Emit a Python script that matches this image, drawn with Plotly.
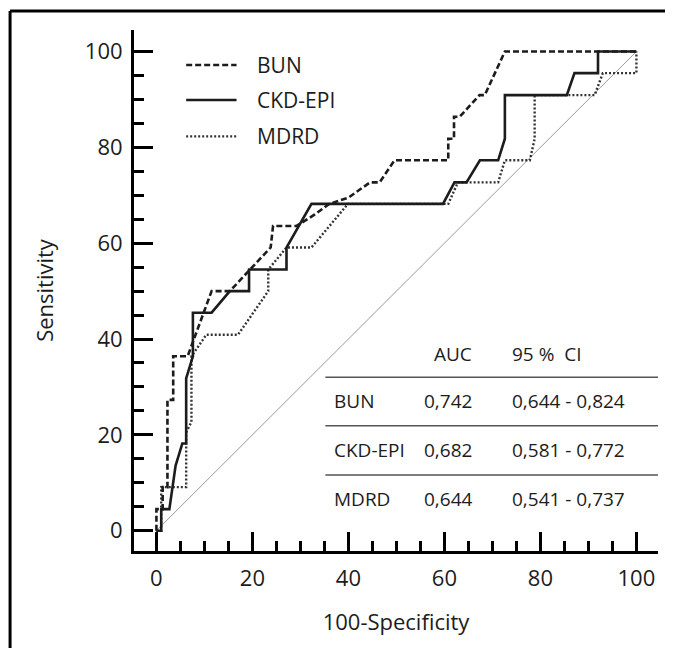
import plotly.graph_objects as go

# ROC curves (x = 100-Specificity, y = Sensitivity)
bun_x = [0, 0, 1.3, 1.3, 2.3, 2.3, 3.5, 3.5, 6.5, 11.5, 15.3, 23.8, 24.3, 29.2, 33, 36, 40, 44.5, 46.5,
         49.6, 60.8, 60.8, 62, 62, 63.2, 67.3, 68.4, 72.6, 100]
bun_y = [0, 4.5, 4.5, 9.1, 9.1, 27.3, 27.3, 36.4, 36.4, 50, 50, 59.1, 63.6, 63.6, 66, 68.2, 69.5, 72.7, 72.7,
         77.3, 77.3, 81.8, 81.8, 86.4, 86.4, 90.9, 90.9, 100, 100]

ckd_x = [0, 1, 1, 2.7, 4.0, 5.4, 6.2, 6.2, 7.6, 7.6, 11.5, 15.3, 19.3, 19.3, 27.1, 27.1, 32.3, 59.7, 62.1,
         64.6, 67.4, 71.2, 72.6, 72.6, 85.5, 87.1, 92, 92, 100]
ckd_y = [0, 0, 4.5, 4.5, 13.6, 18.2, 18.2, 31.8, 36.4, 45.5, 45.5, 50, 50, 54.5, 54.5, 59.1, 68.2, 68.2, 72.7,
         72.7, 77.3, 77.3, 81.8, 90.9, 90.9, 95.5, 95.5, 100, 100]

mdrd_x = [0, 1, 1, 6.2, 6.2, 7.3, 7.3, 10.4, 17, 23.3, 23.3, 27.1, 32.3, 36.1, 39.9, 60.8, 62.8, 71.2, 72.6,
          77.8, 78.8, 78.8, 91.3, 93, 100, 100]
mdrd_y = [0, 0, 9.1, 9.1, 20.5, 22.7, 36.4, 40.9, 40.9, 50, 54.5, 59.1, 59.1, 63.6, 68.2, 68.2, 72.7, 72.7,
          77.3, 77.3, 81.8, 90.9, 90.9, 95.5, 95.5, 100]

diag = [0, 100]

series_names = ["BUN", "CKD-EPI", "MDRD"]
auc_values = ["0,742", "0,682", "0,644"]
ci_values = ["0,644 - 0,824", "0,581 - 0,772", "0,541 - 0,737"]
table_header = ["AUC", "95 %  CI"]

FONT = "Open Sans"
INK = "#1c1c1c"
styles = {
    "BUN": dict(color=INK, width=2.6, dash="6px,3px"),
    "CKD-EPI": dict(color=INK, width=2.6, dash="solid"),
    "MDRD": dict(color="#333333", width=2.4, dash="2px,2px"),
}

fig = go.Figure()

fig.add_trace(go.Scatter(x=diag, y=diag, mode="lines", line=dict(color="#9a9a9a", width=1),
                         showlegend=False, hoverinfo="skip"))

for name, xs, ys in [("MDRD", mdrd_x, mdrd_y), ("CKD-EPI", ckd_x, ckd_y), ("BUN", bun_x, bun_y)]:
    fig.add_trace(go.Scatter(x=xs, y=ys, mode="lines", name=name, line=styles[name], showlegend=False))

# hand-made legend (longer line samples than plotly's own legend)
legend_rows = [97.2, 89.9, 82.3]
shapes = []
annotations = []
for name, yy in zip(series_names, legend_rows):
    shapes.append(dict(type="line", xref="x", yref="y", x0=6.2, x1=16.7, y0=yy, y1=yy, line=styles[name]))
    annotations.append(dict(x=20.6, y=yy, xref="x", yref="y", text=name, showarrow=False,
                            xanchor="left", yanchor="middle", font=dict(size=21, color=INK, family=FONT)))

# AUC table in the lower right
col_x = [36.6, 55.4, 73.6]
header_y = 36.9
row_y = [27.0, 16.8, 6.6]
line_y = [32.0, 21.9, 11.6]
annotations.append(dict(x=61.8, y=header_y, xref="x", yref="y", text=table_header[0], showarrow=False,
                        xanchor="center", yanchor="middle", font=dict(size=19, color=INK, family=FONT)))
annotations.append(dict(x=col_x[2], y=header_y, xref="x", yref="y", text=table_header[1], showarrow=False,
                        xanchor="left", yanchor="middle", font=dict(size=19, color=INK, family=FONT)))
for yy in line_y:
    shapes.append(dict(type="line", xref="x", yref="y", x0=35.2, x1=104.5, y0=yy, y1=yy,
                       line=dict(color="#555555", width=1.5)))
for name, auc, ci, yy in zip(series_names, auc_values, ci_values, row_y):
    for xx, txt in zip(col_x, [name, auc, ci]):
        annotations.append(dict(x=xx, y=yy, xref="x", yref="y", text=txt, showarrow=False,
                                xanchor="left", yanchor="middle", font=dict(size=19, color=INK, family=FONT)))

# frame around the figure (left and top edges)
shapes.append(dict(type="line", xref="paper", yref="paper", x0=-0.2365, x1=-0.2365, y0=-0.2, y1=1.0365,
                   line=dict(color="black", width=3)))
shapes.append(dict(type="line", xref="paper", yref="paper", x0=-0.2365, x1=1.05, y0=1.0365, y1=1.0365,
                   line=dict(color="black", width=3)))

axis_common = dict(
    showline=True, linecolor="black", linewidth=3, mirror=False,
    showgrid=False, zeroline=False,
    ticks="inside", ticklen=19, tickwidth=3, tickcolor="black",
    tick0=0, dtick=20,
    minor=dict(ticks="inside", ticklen=10, tickwidth=2.5, tickcolor="black", tick0=0, dtick=5),
    tickfont=dict(size=22, color=INK, family=FONT),
    fixedrange=True,
)

fig.update_xaxes(range=[-4.67, 104.5], title=dict(text="100-Specificity", standoff=24,
                                                 font=dict(size=22, color=INK, family=FONT)),
                 ticklabelstandoff=6, **axis_common)
fig.update_yaxes(range=[-4.24, 104.5], title=dict(text="Sensitivity", standoff=26,
                                                 font=dict(size=22, color=INK, family=FONT)),
                 ticklabelstandoff=4, **axis_common)

# page body adds an 8px margin, so the figure is 8px smaller than the window
fig.update_layout(
    width=665, height=640,
    margin=dict(l=126, r=15, t=22, b=97, autoexpand=False),
    plot_bgcolor="white", paper_bgcolor="white",
    shapes=shapes, annotations=annotations,
    showlegend=False,
    font=dict(family=FONT, color=INK),
)

fig.write_html("out.html")
